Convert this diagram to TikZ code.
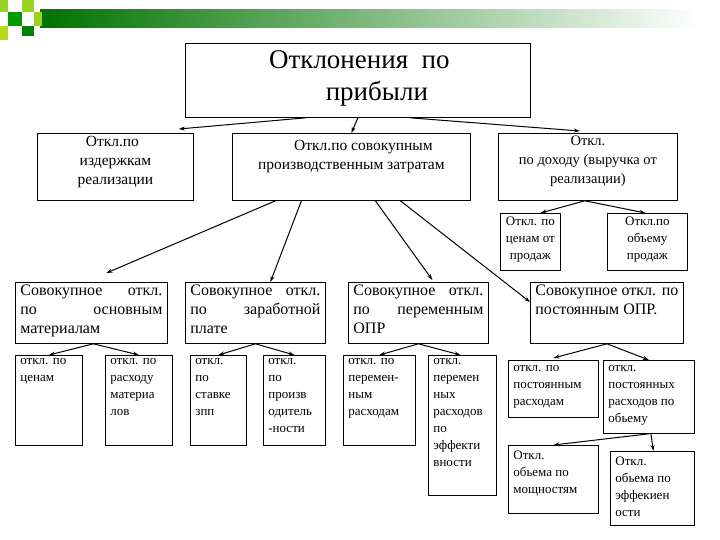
\documentclass[tikz,border=0pt]{standalone}
\usepackage{fontspec}
\setmainfont{Liberation Serif}
\usetikzlibrary{arrows.meta}
\newcommand{\bx}[8]{% name x1 y1 x2 y2 fontsize/align text ; #8 extra
  \pgfmathsetmacro{\bw}{#4-#2}\pgfmathsetmacro{\bh}{#5-#3}%
  \pgfmathsetmacro{\pw}{\bw-10}\pgfmathsetmacro{\ph}{\bh-6}%
  \node[box,#8] (#1) at (#2,#3) {\parbox[t][\ph pt][t]{\pw pt}{\rmfamily#6#7}};}
\begin{document}
\begin{tikzpicture}[x=1pt,y=-1pt,
  box/.style={draw,line width=0.8pt,anchor=north west,inner xsep=5pt,inner ysep=3pt},
  arr/.style={-{Stealth[length=6pt,width=4pt]},line width=1pt}]
\useasboundingbox (0,0) rectangle (720,540);
% decoration
\shade[left color=green!45!black,right color=white] (40,10) rectangle (700,28);
\fill[green!60!black] (8,12) rectangle (22,26);
\fill[yellow!60!green] (0,0) rectangle (8,12);
\fill[yellow!60!green] (22,0) rectangle (34,12);
\fill[yellow!70!green] (0,26) rectangle (8,40);
\fill[green!50!black] (22,26) rectangle (34,36);
\fill[yellow!60!green] (34,12) rectangle (42,26);
\hyphenpenalty=10000
% top
\bx{top}{185}{43}{530}{117}{\fontsize{27}{32}\selectfont}{\centering\vspace*{4pt}\hspace*{3pt}Отклонения~~по\\\hspace*{38pt}прибыли\par}{}
% level 1
\bx{A}{37}{133}{193}{200}{\fontsize{15.5}{19}\selectfont}{\centering\hspace*{-6pt}Откл.по\\издержкам\\реализации\par}{}
\bx{B}{232}{133}{470}{200}{\fontsize{15.5}{19}\selectfont}{\centering\vspace*{4pt}\hspace*{24pt}Откл.по совокупным\\производственным затратам\par}{}
\bx{C}{498}{133}{677}{200}{\fontsize{14.5}{19}\selectfont}{\centering Откл.\\по доходу (выручка от\\реализации)\par}{}
\bx{D1}{500}{213}{560}{270}{\fontsize{13}{17}\selectfont}{\centering Откл. по\\ценам от\\продаж\par}{}
\bx{D2}{607}{213}{687}{270}{\fontsize{13}{17}\selectfont}{\centering Откл.по\\объему\\продаж\par}{}
% level 2
\bx{M1}{15}{282}{167}{343}{\fontsize{16}{19}\selectfont}{Совокупное откл. по основным материалам}{}
\bx{M2}{185}{282}{325}{343}{\fontsize{16}{19}\selectfont}{Совокупное откл. по заработной плате}{}
\bx{M3}{348}{282}{488}{343}{\fontsize{16}{19}\selectfont}{Совокупное откл. по переменным ОПР}{}
\bx{M4}{530}{282}{683}{343}{\fontsize{16}{19}\selectfont}{Совокупное откл. по постоянным ОПР.}{}
% level 3
\bx{c1}{15}{355}{82}{445}{\fontsize{13}{17}\selectfont\raggedright}{откл. по ценам\par}{}
\bx{c2}{105}{355}{172}{445}{\fontsize{13}{17}\selectfont\raggedright}{откл. по расходу материа лов\par}{}
\bx{c3}{190}{355}{246}{445}{\fontsize{13}{17}\selectfont\raggedright}{откл.\\по\\ставке\\зпп\par}{}
\bx{c4}{263}{355}{325}{445}{\fontsize{13}{17}\selectfont\raggedright}{откл.\\по\\произв\\одитель\\-ности\par}{}
\bx{c5}{343}{355}{415}{445}{\fontsize{13}{17}\selectfont\raggedright}{откл. по\\перемен-\\ным\\расходам\par}{}
\bx{c6}{428}{355}{496}{495}{\fontsize{13}{17}\selectfont\raggedright}{откл.\\перемен\\ных\\расходов\\по\\эффекти\\вности\par}{}
\bx{c7}{508}{360}{598}{417}{\fontsize{13}{17}\selectfont\raggedright}{\vspace*{2pt}откл. по\\постоянным\\расходам\par}{}
\bx{c8}{603}{360}{694}{433}{\fontsize{13}{17}\selectfont\raggedright}{\vspace*{2pt}откл.\\постоянных\\расходов по\\обьему\par}{}
\bx{c9}{508}{445}{598}{513}{\fontsize{13}{17}\selectfont\raggedright}{\vspace*{2pt}Откл.\\обьема по\\мощностям\par}{}
\bx{c10}{610}{451}{694}{525}{\fontsize{13}{17}\selectfont\raggedright}{\vspace*{2pt}Откл.\\обьема по\\эффекиен\\ости\par}{}
% connectors
\draw[arr] ([xshift=-52pt]top.south) -- ([xshift=-15pt,yshift=4pt]A.north east);
\draw[arr] (top.south) -- (B.north);
\draw[arr] ([xshift=52pt]top.south) -- ([xshift=-8pt,yshift=2pt]C.north);
\draw[arr] ([xshift=-3pt]C.south) -- ([xshift=10pt]D1.north);
\draw[arr] ([xshift=-3pt]C.south) -- ([xshift=-2pt]D2.north);
\draw[arr] ([xshift=-76pt]B.south) -- ([xshift=15pt,yshift=9pt]M1.north);
\draw[arr] ([xshift=-50pt]B.south) -- ([xshift=15pt]M2.north);
\draw[arr] ([xshift=24pt]B.south) -- ([xshift=14pt,yshift=2pt]M3.north);
\draw[arr] ([xshift=49pt]B.south) -- ([yshift=-20pt]M4.north west);
\draw[arr] ([xshift=2pt]M1.south) -- (c1.north);
\draw[arr] ([xshift=2pt]M1.south) -- (c2.north);
\draw[arr] (M2.south) -- (c3.north);
\draw[arr] (M2.south) -- (c4.north);
\draw[arr] (M3.south) -- (c5.north);
\draw[arr] (M3.south) -- ([xshift=-2pt]c6.north);
\draw[arr] (M4.south) -- ([yshift=2pt]c7.north);
\draw[arr] (M4.south) -- (c8.north);
\draw[arr] (c8.south) -- (c9.north);
\draw[arr] ([xshift=2pt]c8.south) -- ([xshift=1pt]c10.north);
\end{tikzpicture}
\end{document}
